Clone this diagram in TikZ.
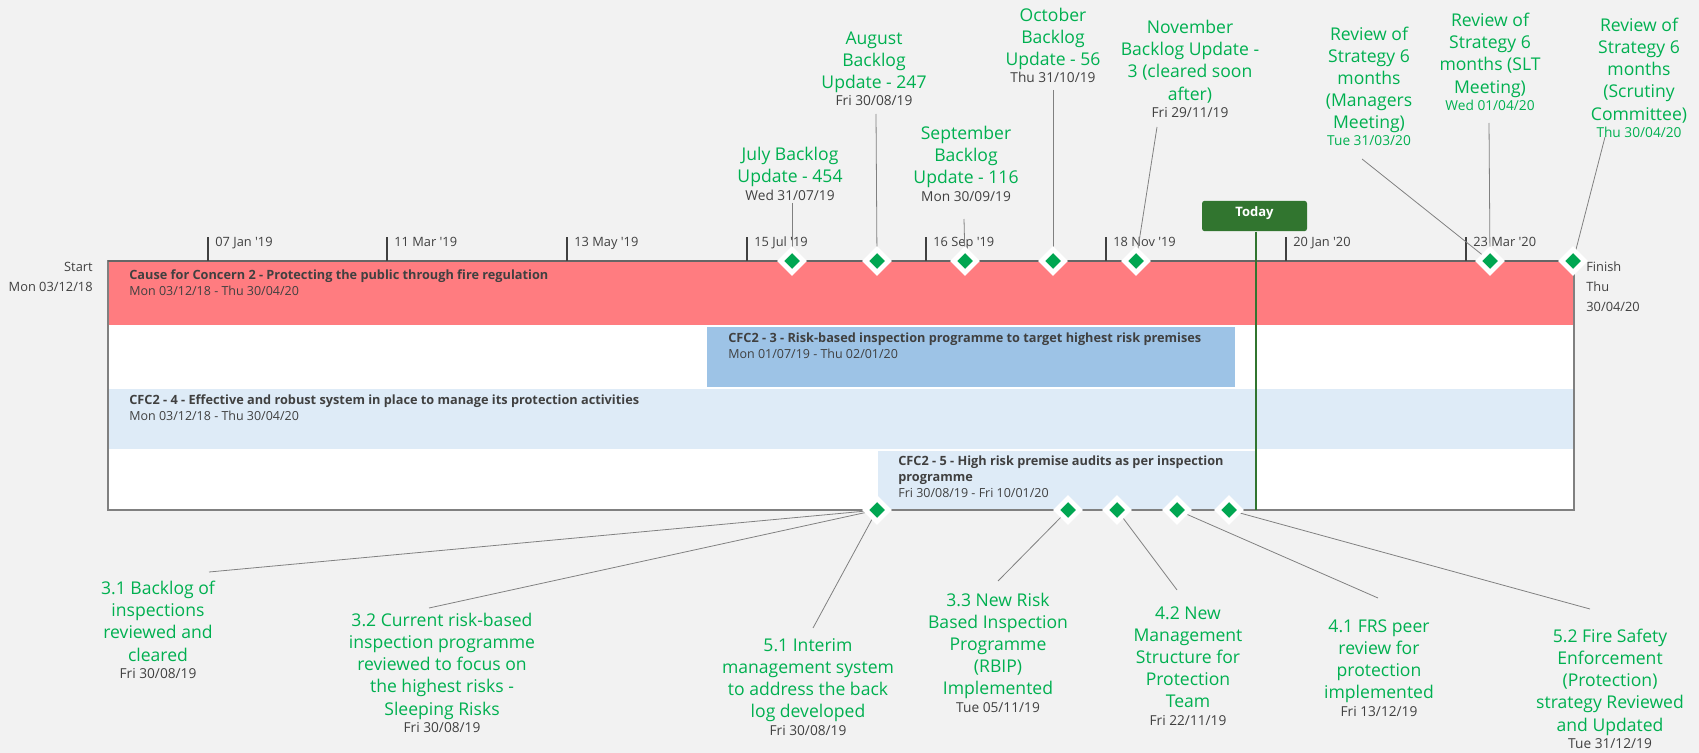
\documentclass[tikz,border=0pt]{standalone}
\usepackage{fontspec}
\setmainfont{Open Sans}
\usetikzlibrary{shapes.geometric}
\definecolor{bg}{HTML}{F2F2F2}
\definecolor{msgreen}{HTML}{00B050}
\definecolor{dmgreen}{HTML}{00A651}
\definecolor{redbar}{HTML}{FF7C80}
\definecolor{bluebar}{HTML}{9DC3E6}
\definecolor{lightbar}{HTML}{DEEBF7}
\definecolor{todaygreen}{HTML}{31752F}
\definecolor{txtgray}{HTML}{404040}
\definecolor{leadgray}{HTML}{808080}
\newcommand\lblfont{\fontsize{10}{12.6}\selectfont}
\newcommand\dte{\fontsize{7.8}{12.6}\selectfont}
\newcommand\smallfont{\fontsize{7.3}{11.3}\selectfont}
\newcommand\barfont{\fontsize{7.1}{9}\selectfont}
\newcommand\bartitle[1]{{\fontsize{7.25}{9}\selectfont\bfseries #1}}
\begin{document}
\begin{tikzpicture}[x=0.02cm,y=-0.02cm,
    lbl/.style={align=center, text=msgreen, inner sep=0pt, anchor=base, font=\lblfont},
    ms/.style={diamond, fill=dmgreen, draw=white, line width=2.8pt, minimum size=0.5cm, inner sep=0pt},
    lead/.style={draw=leadgray, line width=0.45pt},
    bartxt/.style={align=left, text=txtgray, inner sep=0pt, anchor=base west, font=\barfont},
    ticklbl/.style={text=txtgray, inner sep=0pt, anchor=base west, font=\smallfont}]
    \useasboundingbox (0,0) rectangle (1699,753);
    \fill[bg] (0,0) rectangle (1699,753);
	% bars
	\fill[white] (108,261) rectangle (1574,510);
	\fill[redbar] (108,262) rectangle (1574,325);
	\fill[bluebar] (707,327) rectangle (1235,387);
	\fill[lightbar] (108,389) rectangle (1574,449);
	\fill[lightbar] (878,451) rectangle (1257,510);
	\draw[leadgray, line width=0.6pt] (108,261) rectangle (1574,510);
	\draw[txtgray!80, line width=0.9pt] (108,261) -- (1574,261);
	\node[bartxt] (b2) at (129,295.5) {\bartitle{Cause for Concern 2 - Protecting the public through fire regulation}\\Mon 03/12/18 - Thu 30/04/20};
	\node[bartxt] (b3) at (728,358) {\bartitle{CFC2 - 3 - Risk-based inspection programme to target highest risk premises}\\Mon 01/07/19 - Thu 02/01/20};
	\node[bartxt] (b4) at (129,420.5) {\bartitle{CFC2 - 4 - Effective and robust system in place to manage its protection activities}\\Mon 03/12/18 - Thu 30/04/20};
	\node[bartxt] (b5) at (898,497.5) {\bartitle{CFC2 - 5 - High risk premise audits as per inspection}\\\bartitle{programme}\\Fri 30/08/19 - Fri 10/01/20};
	% scale
	\foreach \x/\t in {208/07 Jan, 387/11 Mar, 567/13 May, 747/15 Jul, 926/16 Sep, 1106/18 Nov} {
		\draw[txtgray, line width=0.6pt] (\x,237) -- (\x,261);
		\node[ticklbl] (t\x) at (\x+7,246.5) {\t\ \textquotesingle 19};
	}
	\foreach \x/\t in {1286/20 Jan, 1466/23 Mar} {
		\draw[txtgray, line width=0.6pt] (\x,237) -- (\x,261);
		\node[ticklbl] (t\x) at (\x+7,246.5) {\t\ \textquotesingle 20};
	}
	\node[ticklbl, anchor=base east, align=right] (start) at (93,291) {Start\\Mon 03/12/18};
	\node[ticklbl, align=left] (finish) at (1586,311) {Finish\\Thu\\30/04/20};
	% today
	\node[fill=todaygreen, text=white, rounded corners=1.5pt, minimum width=2.1cm, minimum height=0.6cm, text depth=5pt, font=\fontsize{7.4}{9}\selectfont\bfseries] (today) at (1254.5,216) {Today};
	\coordinate (todayend) at (1256,510);
	\draw[todaygreen, line width=0.6pt] (today.south -| todayend) -- (todayend);
	% milestone labels above
	\node[lbl] (lJul) at (790,200) {July Backlog\\Update - 454\\[-2.7pt]{\dte\color{txtgray}Wed 31/07/19}};
	\node[lbl] (lAug) at (874,106) {August\\Backlog\\Update - 247\\[-2.7pt]{\dte\color{txtgray}Fri 30/08/19}};
	\node[lbl] (lSep) at (966,201) {September\\Backlog\\Update - 116\\[-2.7pt]{\dte\color{txtgray}Mon 30/09/19}};
	\node[lbl] (lOct) at (1053,83) {October\\Backlog\\Update - 56\\[-2.7pt]{\dte\color{txtgray}Thu 31/10/19}};
	\node[lbl] (lNov) at (1190,117.5) {November\\Backlog Update -\\3 (cleared soon\\after)\\[-2.7pt]{\dte\color{txtgray}Fri 29/11/19}};
	\node[lbl] (lMgr) at (1369,146) {Review of\\Strategy 6\\months\\(Managers\\Meeting)\\[-2.7pt]{\dte Tue 31/03/20}};
	\node[lbl] (lSlt) at (1490,110.5) {Review of\\Strategy 6\\months (SLT\\Meeting)\\[-2.7pt]{\dte Wed 01/04/20}};
	\node[lbl] (lScr) at (1639,137.5) {Review of\\Strategy 6\\months\\(Scrutiny\\Committee)\\[-2.7pt]{\dte Thu 30/04/20}};
	% milestone labels below
	\node[lbl] (l31) at (158,678.5) {3.1 Backlog of\\inspections\\reviewed and\\cleared\\[-2.7pt]{\dte\color{txtgray}Fri 30/08/19}};
	\node[lbl] (l32) at (442,732.5) {3.2 Current risk-based\\inspection programme\\reviewed to focus on\\the highest risks -\\Sleeping Risks\\[-2.7pt]{\dte\color{txtgray}Fri 30/08/19}};
	\node[lbl] (l51) at (808,735) {5.1 Interim\\management system\\to address the back\\log developed\\[-2.7pt]{\dte\color{txtgray}Fri 30/08/19}};
	\node[lbl] (l33) at (998,712) {3.3 New Risk\\Based Inspection\\Programme\\(RBIP)\\Implemented\\[-2.7pt]{\dte\color{txtgray}Tue 05/11/19}};
	\node[lbl] (l42) at (1188,725) {4.2 New\\Management\\Structure for\\Protection\\Team\\[-2.7pt]{\dte\color{txtgray}Fri 22/11/19}};
	\node[lbl] (l41) at (1379,716) {4.1 FRS peer\\review for\\protection\\implemented\\[-2.7pt]{\dte\color{txtgray}Fri 13/12/19}};
	\node[lbl] (l52) at (1610,748.5) {5.2 Fire Safety\\Enforcement\\(Protection)\\strategy Reviewed\\and Updated\\[-2.7pt]{\dte\color{txtgray}Tue 31/12/19}};
	% leader ends
	\coordinate (cJul) at (792,203);
	\coordinate (cAug) at (876,114);
	\coordinate (cSep) at (964,219);
	\coordinate (cOct) at (1053,90);
	\coordinate (cNov) at (1157,127);
	\coordinate (cMgr) at (1362,159);
	\coordinate (cSlt) at (1489,123);
	\coordinate (cScr) at (1605,137);
	\coordinate (c31) at (209,572);
	\coordinate (c32) at (429,608);
	\coordinate (c51) at (813,628);
	\coordinate (c33) at (998,581);
	\coordinate (c42) at (1177,590);
	\coordinate (c41) at (1378,598);
	\coordinate (c52) at (1590,609);
	% milestones
	\coordinate (mJul) at (792,261);
	\coordinate (mAug) at (877,261);
	\coordinate (mSep) at (965,261);
	\coordinate (mOct) at (1053,261);
	\coordinate (mNov) at (1136,261);
	\coordinate (mMar) at (1490,261);
	\coordinate (mApr) at (1573,261);
	\coordinate (mB30) at (877,510);
	\coordinate (mB33) at (1068,510);
	\coordinate (mB42) at (1117,510);
	\coordinate (mB41) at (1177,510);
	\coordinate (mB52) at (1229,510);
	\draw[lead] (cJul) -- (mJul);
	\draw[lead] (cAug) -- (mAug);
	\draw[lead] (cSep) -- (mSep);
	\draw[lead] (cOct) -- (mOct);
	\draw[lead] (cNov) -- (mNov);
	\draw[lead] (cMgr) -- (mMar);
	\draw[lead] (cSlt) -- (mMar);
	\draw[lead] (cScr) -- (mApr);
	\draw[lead] (c31) -- (mB30);
	\draw[lead] (c32) -- (mB30);
	\draw[lead] (c51) -- (mB30);
	\draw[lead] (c33) -- (mB33);
	\draw[lead] (c42) -- (mB42);
	\draw[lead] (c41) -- (mB41);
	\draw[lead] (c52) -- (mB52);
	\foreach \m in {mJul, mAug, mSep, mOct, mNov, mMar, mApr, mB30, mB33, mB42, mB41, mB52}
		\node[ms] (d\m) at (\m) {};
\end{tikzpicture}
\end{document}
